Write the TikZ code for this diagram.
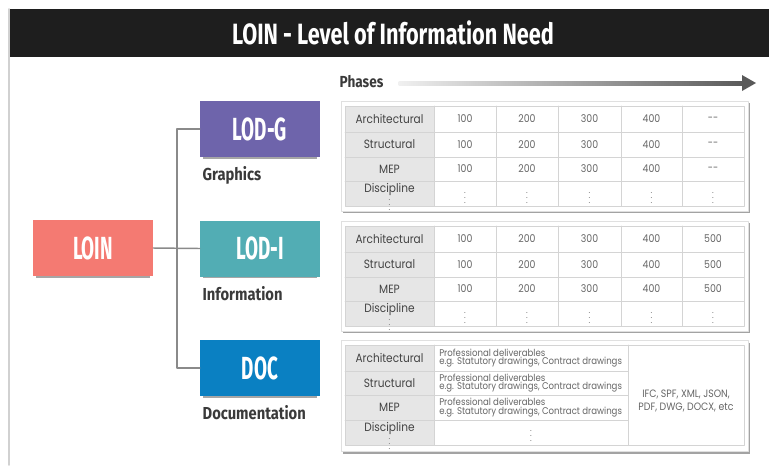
\documentclass[tikz,border=0pt]{standalone}
\usepackage{fontspec}
\setmainfont{Poppins}
\newfontfamily\headfont[FakeStretch=0.74]{Fira Sans}
\newfontfamily\boxfont[FakeStretch=0.59]{Fira Sans}
\newfontfamily\capfont[FakeStretch=0.85]{Fira Sans}
\newfontfamily\cellfont[FakeStretch=0.88]{Poppins}
\usetikzlibrary{positioning,shadows,calc}
\definecolor{headc}{HTML}{1E1E1E}
\definecolor{loinc}{HTML}{F47A72}
\definecolor{lodgc}{HTML}{6E64AB}
\definecolor{lodic}{HTML}{52ADB4}
\definecolor{docc}{HTML}{0A80C2}
\definecolor{capc}{HTML}{3A3A3A}
\definecolor{linkc}{HTML}{8A8A8A}
\definecolor{hdc}{HTML}{E6E6E6}
\definecolor{gridc}{HTML}{D4D4D4}
\definecolor{hdtxt}{HTML}{444444}
\definecolor{valtxt}{HTML}{666666}
\begin{document}
\begin{tikzpicture}[x=0.75pt,y=-0.75pt,line cap=round,line join=round,
	lod/.style={minimum width=90pt,minimum height=42pt,inner sep=0,text=white,
		font=\boxfont\bfseries\fontsize{24}{24}\selectfont,
		drop shadow={shadow xshift=0pt,shadow yshift=-2.5pt,shadow scale=0.95,fill=black!35,opacity=1}},
	capt/.style={anchor=north west,inner sep=0,text=capc,font=\capfont\bfseries\fontsize{13}{13}\selectfont},
	link/.style={draw=linkc,line width=1.1pt},
	panel/.style={draw=black!12,fill=white,minimum width=305.25pt,minimum height=82.5pt,
		drop shadow={shadow xshift=1.2pt,shadow yshift=-1.5pt,fill=black!45,opacity=0.8}},
	grid/.style={draw=gridc,line width=0.6pt},
	hd/.style={text=hdtxt,inner sep=0,font=\cellfont\fontsize{9}{9}\selectfont},
	val/.style={text=valtxt,inner sep=0,font=\cellfont\fontsize{8}{9.2}\selectfont},
	note/.style={text=valtxt,inner sep=0,anchor=west,align=left,font=\cellfont\fontsize{7.3}{6.3}\selectfont},
	dots/.style={text=valtxt,inner sep=0,font=\fontsize{6}{6}\selectfont}]
		\useasboundingbox (0,0) rectangle (769,465);
		\fill[headc] (9,9) rectangle (769,57);
		\draw[black!18,line width=1.2pt] (9,9) -- (9,465);
		\node[text=white,font=\headfont\bfseries\fontsize{22}{22}\selectfont] (title) at (393,33) {LOIN - Level of Information Need};
		\node[text=capc,font=\capfont\bfseries\fontsize{12}{12}\selectfont] (phases) at (361.5,82) {Phases};
		\coordinate (phend) at (756,83);
		\shade[left color=black!6,right color=black!65] ([xshift=8pt,yshift=-1.5pt]phases.east|-phend) rectangle ([xshift=-9pt,yshift=1.5pt]phend);
		\fill[black!65] ([xshift=-10.5pt,yshift=6pt]phend) -- (phend) -- ([xshift=-10.5pt,yshift=-6pt]phend) -- cycle;
		\coordinate (fork) at (177,248);
		\node[lod,fill=loinc] (loin) at (93,248) {LOIN};
		\node[lod,fill=lodgc] (lodg) at (260,129) {LOD-G};
		\node[lod,fill=lodic] (lodi) at (260,248.5) {LOD-I};
		\node[lod,fill=docc] (doc) at (260,368) {DOC};
		\draw[link] (lodg.west) -| (fork) |- (doc.west);
		\draw[link] (loin.east) -- (lodi.west);
		\node[capt] (capg) at ([xshift=2pt,yshift=-6.8pt]lodg.south west) {Graphics};
		\node[capt] (capi) at ([xshift=2pt,yshift=-6.8pt]lodi.south west) {Information};
		\node[capt] (capd) at ([xshift=2pt,yshift=-6.8pt]doc.south west) {Documentation};
		\foreach \ty/\lastv [count=\tb] in {106/{-{}-},226/500}
		{
			\node[panel] (tab\tb) at (544.5,\ty+50) {};
			\fill[hdc] (345,\ty) rectangle (434,\ty+100);
			\foreach \yy in {26,51,75} \draw[grid] (345,\ty+\yy) -- (744,\ty+\yy);
			\foreach \xx in {434,496,558,621,682} \draw[grid] (\xx,\ty) -- (\xx,\ty+100);
			\draw[grid] (345,\ty) rectangle (744,\ty+100);
			\foreach \lab/\yy [count=\r] in {Architectural/13,Structural/38.5,MEP/63}
			{
				\node[hd] (t\tb-\r) at (389.5,\ty+\yy) {\lab};
				\foreach \v/\xx [count=\c] in {100/465,200/527,300/589.5,400/651.5,\lastv/713}
					\node[val] (t\tb-\r-\c) at (\xx,\ty+\yy) {\v};
			}
			\node[hd] (t\tb-4) at (389.5,\ty+83) {Discipline};
			\node[dots] at (389.5,\ty+95) {$\vdots$};
			\foreach \xx in {465,527,589.5,651.5,713} \node[dots] at (\xx,\ty+88) {$\vdots$};
		}
		\node[panel,minimum height=83.25pt] (tab3) at (544.5,396) {};
		\fill[hdc] (345,345) rectangle (434,445);
		\foreach \yy in {371,395,420} \draw[grid] (345,\yy) -- (628,\yy);
		\foreach \xx in {434,628} \draw[grid] (\xx,345) -- (\xx,445);
		\draw[grid] (345,345) rectangle (744,445);
		\foreach \lab/\yy [count=\r] in {Architectural/358,Structural/383,MEP/407.5}
		{
			\node[hd] (t3-\r) at (389.5,\yy) {\lab};
			\node[note] (t3-\r-1) at (439,\yy) {Professional deliverables\\e.g. Statutory drawings, Contract drawings};
		}
		\node[hd] (t3-4) at (389.5,428) {Discipline};
		\node[dots] at (389.5,440) {$\vdots$};
		\node[dots] at (531,432) {$\vdots$};
		\node[val,align=center] (t3-fmt) at (686,401) {IFC, SPF, XML, JSON,\\PDF, DWG, DOCX, etc};
\end{tikzpicture}
\end{document}
